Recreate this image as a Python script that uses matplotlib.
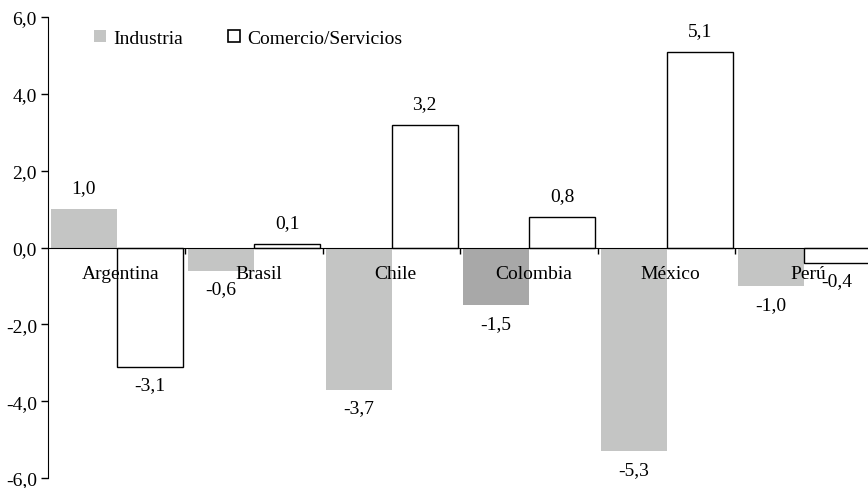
import numpy as np
import matplotlib.pyplot as plt
from matplotlib.patches import Patch

plt.rcParams['font.family'] = ['Liberation Serif', 'DejaVu Serif']

paises = ['Argentina', 'Brasil', 'Chile', 'Colombia', 'México', 'Perú']
industria = [1.0, -0.6, -3.7, -1.5, -5.3, -1.0]
comercio = [-3.1, 0.1, 3.2, 0.8, 5.1, -0.4]
yticks = [-6, -4, -2, 0, 2, 4, 6]

gris = '#c4c5c4'
gris_oscuro = '#a8a8a8'

fig = plt.figure(figsize=(8.68, 4.89), dpi=100)
ax = fig.add_axes([48 / 868, 10 / 489, 1 - 48 / 868, (479 - 18) / 489])

x = np.arange(len(paises))
w = 0.48
colores = [gris] * len(paises)
colores[3] = gris_oscuro  # Colombia mas oscuro
b1 = ax.bar(x - w / 2, industria, w, color=colores, edgecolor='none', zorder=2)
b2 = ax.bar(x + w / 2, comercio, w, color='white', edgecolor='black', linewidth=1.0, zorder=2)

def etiquetas(barras, valores):
    for b, v in zip(barras, valores):
        cx = b.get_x() + b.get_width() / 2
        if v >= 0:
            ax.annotate(f'{v:.1f}'.replace('.', ','), (cx, v), xytext=(0, 9),
                        textcoords='offset points', ha='center', va='bottom', fontsize=14)
        else:
            ax.annotate(f'{v:.1f}'.replace('.', ','), (cx, v), xytext=(0, -7),
                        textcoords='offset points', ha='center', va='top', fontsize=14)

etiquetas(b1, industria)
etiquetas(b2, comercio)

for i, p in enumerate(paises):
    ax.text(i + 0.03, -0.67, p, ha='center', va='center', fontsize=14, zorder=3)

ax.set_xlim(-0.5, 5.465)
ax.set_ylim(-6, 6)
ax.set_yticks(yticks)
ax.set_yticklabels([f'{t:.1f}'.replace('.', ',') for t in yticks], fontsize=14)
ax.tick_params(axis='y', length=5, width=1, pad=3)

ax.spines['top'].set_visible(False)
ax.spines['right'].set_visible(False)
ax.spines['bottom'].set_position(('data', 0))
ax.spines['bottom'].set_zorder(4)
ax.set_xticks(np.arange(0.5, 5.0, 1.0))
ax.set_xticklabels([])
ax.tick_params(axis='x', length=4, width=1, direction='out')

handles = [Patch(facecolor=gris, edgecolor='none', label='Industria'),
           Patch(facecolor='white', edgecolor='black', linewidth=1.2, label='Comercio/Servicios')]
ax.legend(handles=handles, loc='upper left', bbox_to_anchor=(0.035, 1.01), ncol=2, frameon=False,
          fontsize=14, handlelength=0.6, handleheight=0.6, handletextpad=0.4, columnspacing=2.3)

fig.savefig('out.png', dpi=100)
